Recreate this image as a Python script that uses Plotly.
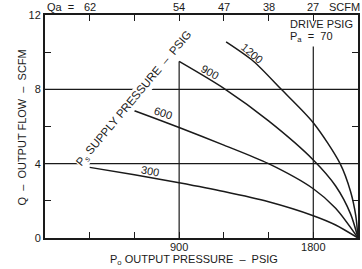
import plotly.graph_objects as go

# Supply pressure curves (Ps, psig): output pressure (psig) vs output flow (SCFM)
x_300 = [300, 600, 900, 1200, 1500, 1800, 1950, 2100]
q_300 = [3.8, 3.4, 2.97, 2.5, 1.95, 1.2, 0.7, 0.0]

x_600 = [600, 900, 1200, 1500, 1800, 1950, 2100]
q_600 = [6.85, 5.95, 5.0, 4.0, 2.65, 1.6, 0.0]

x_900 = [900, 1200, 1500, 1800, 1950, 2050, 2100]
q_900 = [9.5, 8.05, 6.3, 4.2, 2.8, 1.3, 0.0]

x_1200 = [1215, 1400, 1585, 1800, 1980, 2050, 2085, 2100]
q_1200 = [10.55, 9.5, 8.0, 6.2, 4.0, 2.5, 1.2, 0.0]

curve_labels = ["300", "600", "900", "1200"]

x_ticks = [0, 300, 600, 900, 1200, 1500, 1800, 2100]
x_ticktext = ["", "", "", "900", "", "", "1800", ""]
y_ticks = [0, 2, 4, 6, 8, 10, 12]
y_ticktext = ["0", "", "4", "", "8", "", "12"]

top_vals = [300, 900, 1200, 1500, 1800]
top_text = ["62", "54", "47", "38", "27"]

FONT = "Liberation Sans, Arial, sans-serif"
INK = "#1a1a1a"
FS = 11

fig = go.Figure()
for xs, qs in [(x_300, q_300), (x_600, q_600), (x_900, q_900), (x_1200, q_1200)]:
    fig.add_trace(go.Scatter(x=xs, y=qs, mode="lines",
                             line=dict(color=INK, width=1.5, shape="spline", smoothing=0.8),
                             hoverinfo="skip", showlegend=False))

# grid segments
shapes = [
    dict(type="line", xref="x", yref="y", x0=0, x1=2100, y0=4, y1=4, line=dict(color=INK, width=1.2), layer="below"),
    dict(type="line", xref="x", yref="y", x0=0, x1=2100, y0=8, y1=8, line=dict(color=INK, width=1.2), layer="below"),
    dict(type="line", xref="x", yref="y", x0=900, x1=900, y0=0, y1=9.5, line=dict(color=INK, width=1.2), layer="below"),
    dict(type="line", xref="x", yref="y", x0=1800, x1=1800, y0=0, y1=10.3, line=dict(color=INK, width=1.2), layer="below"),
]
fig.update_layout(shapes=shapes)

def f(size=FS):
    return dict(size=size, color=INK, family=FONT)

ann = []
# top Qa labels
ann.append(dict(x=0, y=1.0, xref="x", yref="paper", text="Qa  =", showarrow=False,
                xanchor="left", yanchor="bottom", yshift=0, font=f()))
for v, t in zip(top_vals, top_text):
    ann.append(dict(x=v, y=1.0, xref="x", yref="paper", text=t, showarrow=False,
                    xanchor="center", yanchor="bottom", yshift=0, font=f()))
ann.append(dict(x=1.0, y=1.0, xref="paper", yref="paper", text="SCFM", showarrow=False,
                xanchor="right", yanchor="bottom", yshift=0, xshift=4, font=f()))
# axis titles
ann.append(dict(x=0.5, y=0, xref="paper", yref="paper", text="P<sub>o</sub> OUTPUT PRESSURE  \u2013  PSIG",
                showarrow=False, xanchor="center", yanchor="top", yshift=-13, xshift=-8, font=f()))
ann.append(dict(x=0, y=0.5, xref="paper", yref="paper", text="Q  \u2013  OUTPUT FLOW  \u2013  SCFM",
                showarrow=False, textangle=-90, xanchor="right", yanchor="middle", xshift=-16, yshift=-1,
                font=f()))
# drive pressure note
ann.append(dict(x=1630, y=11.5, xref="x", yref="y", text="DRIVE PSIG", showarrow=False,
                xanchor="left", yanchor="middle", font=f()))
ann.append(dict(x=1630, y=10.8, xref="x", yref="y", text="P<sub>a</sub>  =  70", showarrow=False,
                xanchor="left", yanchor="middle", font=f()))
# curve labels
lab_pos = [(705, 3.6, 10), (795, 6.72, 18), (1107, 8.95, 30), (1387, 9.95, 40)]
for (x, y, a), t in zip(lab_pos, curve_labels):
    ann.append(dict(x=x, y=y, xref="x", yref="y", text=t, showarrow=False, textangle=a, font=f()))
# diagonal supply pressure label
ann.append(dict(x=597, y=7.5, xref="x", yref="y", text="P<sub>s</sub> SUPPLY PRESSURE  \u2013  PSIG",
                showarrow=False, textangle=-50, bgcolor="white", borderpad=0, font=f(11.5)))
fig.update_layout(annotations=ann)

fig.update_xaxes(range=[0, 2100], tickvals=x_ticks, ticktext=x_ticktext, ticks="inside", ticklen=6,
                 tickwidth=1.2, tickcolor=INK, showgrid=False, zeroline=False, showline=True,
                 linecolor=INK, linewidth=2, mirror="allticks", automargin=False,
                 ticklabelstandoff=-2, tickfont=f())
fig.update_yaxes(range=[0, 12], tickvals=y_ticks, ticktext=y_ticktext, ticks="inside", ticklen=6,
                 tickwidth=1.2, tickcolor=INK, showgrid=False, zeroline=False, showline=True,
                 linecolor=INK, linewidth=2, mirror="allticks", automargin=False,
                 tickfont=f())

fig.update_layout(width=362, height=269, margin=dict(l=45, r=4, t=15, b=31, autoexpand=False),
                  paper_bgcolor="white", plot_bgcolor="white", showlegend=False)

fig.write_html("out.html", config={"displayModeBar": False},
               post_script="document.body.style.margin='0';document.body.style.padding='0';")
